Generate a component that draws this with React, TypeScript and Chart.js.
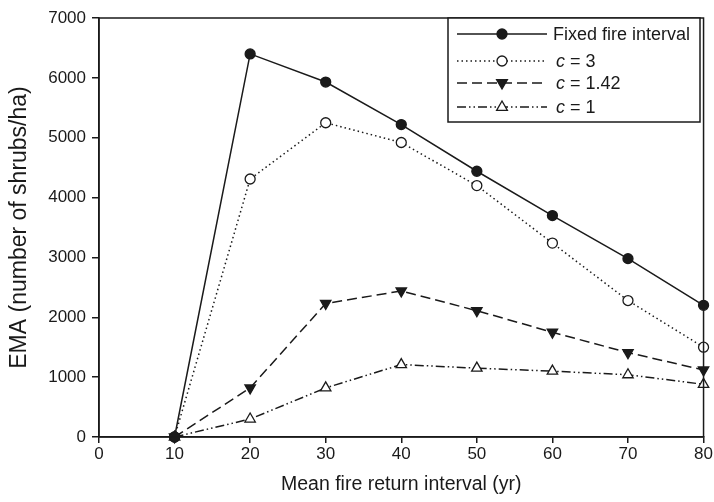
import React, { useEffect, useRef } from "react";
import { Chart, registerables } from "chart.js";

Chart.register(...registerables);

const xValues = [10, 20, 30, 40, 50, 60, 70, 80];
const fixedInterval = [0, 6400, 5930, 5220, 4440, 3700, 2980, 2200];
const c3 = [0, 4310, 5250, 4920, 4200, 3240, 2280, 1500];
const c142 = [0, 820, 2230, 2440, 2110, 1750, 1410, 1120];
const c1 = [0, 300, 820, 1210, 1150, 1100, 1040, 880];
const seriesLabels = ["Fixed fire interval", "c = 3", "c = 1.42", "c = 1"];
const xTitle = "Mean fire return interval (yr)";
const yTitle = "EMA (number of shrubs/ha)";

const FONT = "'Liberation Sans', Arial, Helvetica, sans-serif";
const INK = "#1a1a1a";

const styles = [
  { dash: [] as number[], point: "circle", rot: 0, fill: INK, r: 5 },
  { dash: [1.5, 3], point: "circle", rot: 0, fill: "#ffffff", r: 5 },
  { dash: [10, 5], point: "triangle", rot: 180, fill: INK, r: 6 },
  { dash: [9, 3, 1.5, 3, 1.5, 3], point: "triangle", rot: 0, fill: "#ffffff", r: 6 },
];

function marker(ctx: CanvasRenderingContext2D, kind: string, rot: number, x: number, y: number, r: number) {
  ctx.beginPath();
  if (kind === "circle") {
    ctx.arc(x, y, r, 0, Math.PI * 2);
  } else {
    const s = rot === 180 ? -1 : 1;
    ctx.moveTo(x, y - s * r);
    ctx.lineTo(x - r * 0.9, y + s * r * 0.55);
    ctx.lineTo(x + r * 0.9, y + s * r * 0.55);
    ctx.closePath();
  }
  ctx.fill();
  ctx.stroke();
}

const frameAndLegend = {
  id: "frameAndLegend",
  afterDraw(chart: any) {
    const ctx = chart.ctx;
    const a = chart.chartArea;
    ctx.save();
    ctx.strokeStyle = INK;
    ctx.lineWidth = 1.5;
    ctx.setLineDash([]);
    ctx.strokeRect(a.left, a.top, a.right - a.left, a.bottom - a.top);

    // legend box
    const bx = 448, by = a.top, bw = 252, bh = 104;
    ctx.fillStyle = "#ffffff";
    ctx.fillRect(bx, by, bw, bh);
    ctx.strokeRect(bx, by, bw, bh);
    const rows = [34, 61, 83, 107];
    chart.data.datasets.forEach((ds: any, i: number) => {
      const y = rows[i];
      const st = styles[i];
      ctx.save();
      ctx.strokeStyle = INK;
      ctx.lineWidth = 1.5;
      ctx.setLineDash(st.dash);
      ctx.beginPath();
      ctx.moveTo(457, y);
      ctx.lineTo(547, y);
      ctx.stroke();
      ctx.setLineDash([]);
      ctx.fillStyle = st.fill;
      ctx.strokeStyle = INK;
      ctx.lineWidth = 1.3;
      marker(ctx, st.point, st.rot, 502, y, st.r);
      ctx.restore();
      ctx.fillStyle = INK;
      ctx.textBaseline = "middle";
      ctx.textAlign = "left";
      const label = ds.label as string;
      if (label.startsWith("c ")) {
        ctx.font = `italic 18px ${FONT}`;
        ctx.fillText("c", 556, y + 1);
        const w = ctx.measureText("c").width;
        ctx.font = `18px ${FONT}`;
        ctx.fillText(label.slice(1), 556 + w, y + 1);
      } else {
        ctx.font = `18px ${FONT}`;
        ctx.fillText(label, 553, y + 1);
      }
    });
    ctx.restore();
  },
};

export default function App() {
  const ref = useRef<HTMLCanvasElement>(null);
  useEffect(() => {
    if (!ref.current) return;
    const all = [fixedInterval, c3, c142, c1];
    const chart = new Chart(ref.current, {
      type: "line",
      data: {
        datasets: all.map((vals, i) => ({
          label: seriesLabels[i],
          data: xValues.map((x, j) => ({ x, y: vals[j] })),
          borderColor: INK,
          borderWidth: 1.5,
          borderDash: styles[i].dash,
          pointStyle: styles[i].point as any,
          rotation: styles[i].rot,
          pointRadius: styles[i].r,
          pointBorderWidth: 1.3,
          pointBackgroundColor: styles[i].fill,
          pointBorderColor: INK,
          tension: 0,
          clip: false as any,
        })),
      },
      plugins: [frameAndLegend],
      options: {
        animation: false,
        responsive: false,
        devicePixelRatio: 1,
        layout: { padding: { top: 18, right: 9, bottom: 3, left: 0 } },
        plugins: { legend: { display: false }, tooltip: { enabled: false } },
        scales: {
          x: {
            type: "linear",
            min: 0,
            max: 80,
            ticks: { stepSize: 10, color: INK, font: { family: FONT, size: 17 }, padding: 1, callback: (v: any) => String(v) },
            grid: { drawOnChartArea: false, color: INK, tickLength: 6, lineWidth: 1.5 },
            border: { color: INK, width: 1.5 },
            title: { display: true, text: xTitle, color: INK, font: { family: FONT, size: 19.5 }, padding: { top: 4, bottom: 3 } },
            afterFit: (s: any) => { s.height = 62; },
          },
          y: {
            min: 0,
            max: 7000,
            ticks: { stepSize: 1000, color: INK, font: { family: FONT, size: 17 }, padding: 6, callback: (v: any) => String(v) },
            grid: { drawOnChartArea: false, color: INK, tickLength: 7, lineWidth: 1.5 },
            border: { color: INK, width: 1.5 },
            title: { display: true, text: yTitle, color: INK, font: { family: FONT, size: 23 }, padding: { top: 6, bottom: 4 } },
            afterFit: (s: any) => { s.width = 99; },
          },
        },
      },
    });
    return () => chart.destroy();
  }, []);
  return (
    <div style={{ position: "fixed", left: 0, top: 0, width: 714, height: 502, background: "#fff" }}>
      <canvas ref={ref} width={714} height={502} />
    </div>
  );
}
